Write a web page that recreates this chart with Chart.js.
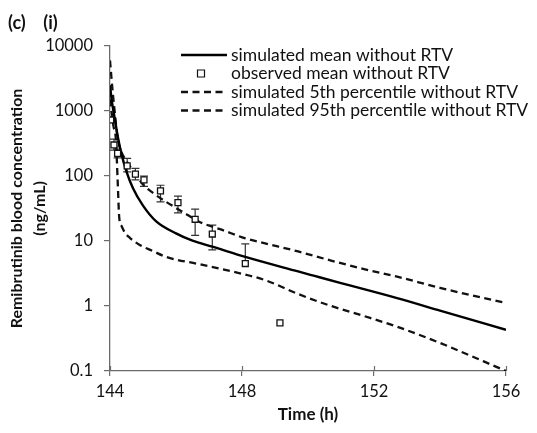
<!DOCTYPE html>
<html>
<head>
<meta charset="utf-8">
<script src="https://cdn.jsdelivr.net/npm/chart.js@4.4.1/dist/chart.umd.min.js"></script>
<style>
  html, body { margin: 0; padding: 0; background: #ffffff; }
  #wrap { width: 537px; height: 433px; position: relative; }
</style>
</head>
<body>
<div id="wrap"><canvas id="c" width="537" height="433"></canvas></div>
<script>
// ---- data ----
const xTicks = [144, 148, 152, 156];
const yTicks = [0.1, 1, 10, 100, 1000, 10000];
const yTickLabels = ['0.1', '1', '10', '100', '1000', '10000'];

const legendLabels = [
  'simulated mean without RTV',
  'observed mean without RTV',
  'simulated 5th percentile without RTV',
  'simulated 95th percentile without RTV'
];

const meanT = [144.0, 144.05, 144.15, 144.25, 144.35, 144.5, 144.7, 145.0, 145.4, 146.0, 146.5, 147.1, 148.1, 149.7, 150.2, 151.0, 152.7, 154.0, 156.0];
const meanC = [2500, 1500, 730, 370, 215, 117, 64, 35, 20, 13.1, 10.1, 8.2, 5.7, 3.4, 2.9, 2.25, 1.32, 0.85, 0.43];

const p5T = [144.0, 144.1, 144.18, 144.23, 144.28, 144.35, 144.45, 144.6, 144.9, 145.3, 145.7, 146.7, 147.7, 148.7, 149.7, 150.7, 151.7, 152.7, 154.0, 156.0];
const p5C = [1500, 600, 355, 90, 23, 17, 13.5, 11.2, 8.7, 7.0, 5.7, 4.4, 3.4, 2.5, 1.53, 1.0, 0.7, 0.48, 0.27, 0.1];

const p95T = [144.0, 144.08, 144.15, 144.22, 144.3, 144.5, 144.75, 145.0, 145.3, 145.7, 146.2, 146.7, 147.4, 148.1, 148.7, 149.7, 150.7, 151.7, 152.7, 154.0, 156.0];
const p95C = [6000, 2000, 900, 420, 270, 170, 112, 74, 55, 40, 28, 19.8, 14.8, 11.0, 9.2, 6.9, 5.0, 3.7, 2.83, 1.9, 1.11];

const obsT  = [144.02, 144.12, 144.23, 144.52, 144.77, 145.03, 145.53, 146.06, 146.58, 147.1, 148.1, 149.15];
const obsC  = [728, 300, 223, 143, 107, 87, 59, 39, 21.6, 12.8, 4.5, 0.55];
const obsHi = [null, 370, 260, 187, 131, 100, 72, 49, 31, 17.6, 9.0, null];
const obsLo = [null, 250, 190, 116, 87, 69, 40, 27, 12.2, 7.3, null, null];

// ---- helpers ----
const toXY = (xs, ys) => xs.map((x, i) => ({ x: x, y: ys[i] }));
const FONT = 'Lato';
const AXIS = '#6b6b6b';
const TXT = '#111111';

// error bars drawn through the chart's own scales
const errorBars = {
  id: 'errorBars',
  beforeDatasetsDraw(chart) {
    const { ctx, scales: { x, y } } = chart;
    ctx.save();
    ctx.strokeStyle = '#333';
    ctx.lineWidth = 1.2;
    const cap = 4;
    obsT.forEach((t, i) => {
      const px = x.getPixelForValue(t);
      const pc = y.getPixelForValue(obsC[i]);
      [obsHi[i], obsLo[i]].forEach(v => {
        if (v == null) return;
        const pv = y.getPixelForValue(v);
        ctx.beginPath();
        ctx.moveTo(px, pc); ctx.lineTo(px, pv);
        ctx.moveTo(px - cap, pv); ctx.lineTo(px + cap, pv);
        ctx.stroke();
      });
    });
    ctx.restore();
  }
};

// inner half of the x-axis tick marks (ticks cross the axis line)
const innerTicks = {
  id: 'innerTicks',
  afterDraw(chart) {
    const { ctx, scales: { x }, chartArea } = chart;
    ctx.save();
    ctx.strokeStyle = AXIS;
    ctx.lineWidth = 1.2;
    x.ticks.forEach(t => {
      const px = Math.round(x.getPixelForValue(t.value)) + 0.5;
      ctx.beginPath();
      ctx.moveTo(px, chartArea.bottom);
      ctx.lineTo(px, chartArea.bottom - 5);
      ctx.stroke();
    });
    ctx.restore();
  }
};

// legend in the upper right of the plot area, as in the reference
const refLegend = {
  id: 'refLegend',
  afterDraw(chart) {
    const { ctx, chartArea } = chart;
    const x0 = chartArea.left + 71;
    const x1 = x0 + 46;
    const tx = x1 + 4;
    const y0 = chartArea.top + 9;
    const step = 18.5;
    ctx.save();
    ctx.font = '17.5px ' + FONT;
    ctx.textBaseline = 'middle';
    ctx.textAlign = 'left';
    chart.data.datasets.forEach((ds, row) => {
      const yy = y0 + row * step;
      if (ds.showLine === false) {
        ctx.strokeStyle = ds.borderColor;
        ctx.fillStyle = '#fff';
        ctx.lineWidth = 1.2;
        const cx = (x0 + x1) / 2 - 3;
        ctx.beginPath();
        ctx.rect(cx - 3.5, yy - 3.5, 7, 7);
        ctx.fill(); ctx.stroke();
      } else {
        ctx.strokeStyle = ds.borderColor;
        ctx.lineWidth = ds.borderWidth;
        ctx.setLineDash(ds.borderDash || []);
        ctx.beginPath();
        ctx.moveTo(x0, yy); ctx.lineTo(x1, yy);
        ctx.stroke();
        ctx.setLineDash([]);
      }
      ctx.fillStyle = TXT;
      ctx.fillText(ds.label, tx, yy);
    });
    ctx.restore();
  }
};

new Chart(document.getElementById('c'), {
  type: 'line',
  data: {
    datasets: [
      {
        label: legendLabels[0],
        data: toXY(meanT, meanC),
        borderColor: '#000', borderWidth: 2.4,
        pointRadius: 0, cubicInterpolationMode: 'monotone', order: 2
      },
      {
        type: 'scatter',
        label: legendLabels[1],
        data: toXY(obsT, obsC),
        showLine: false,
        pointStyle: 'rect', pointRadius: 4.2,
        backgroundColor: '#fff', borderColor: '#111', borderWidth: 1.3,
        order: 0
      },
      {
        label: legendLabels[2],
        data: toXY(p5T, p5C),
        borderColor: '#111', borderWidth: 2.3, borderDash: [7, 4.5],
        pointRadius: 0, cubicInterpolationMode: 'monotone', order: 3
      },
      {
        label: legendLabels[3],
        data: toXY(p95T, p95C),
        borderColor: '#111', borderWidth: 2.3, borderDash: [7, 4.5],
        pointRadius: 0, cubicInterpolationMode: 'monotone', order: 3
      }
    ]
  },
  options: {
    responsive: false,
    devicePixelRatio: 1,
    animation: false,
    layout: { padding: { left: 8, right: 31, top: 0, bottom: 0 } },
    plugins: {
      legend: { display: false },
      tooltip: { enabled: false },
      title: {
        display: true,
        text: '(c)    (i)',
        align: 'start',
        color: TXT,
        font: { family: FONT, size: 18, weight: 'bold', lineHeight: 1.2 },
        padding: { top: 12.5, bottom: 11.9 }
      }
    },
    scales: {
      x: {
        type: 'linear',
        min: 144, max: 156,
        afterBuildTicks: s => { s.ticks = xTicks.map(v => ({ value: v })); },
        afterFit: s => { s.height = 62; },
        ticks: {
          color: TXT, padding: 6,
          font: { family: FONT, size: 16.5 },
          callback: v => String(v)
        },
        grid: { drawOnChartArea: false, drawTicks: true, tickLength: 5, color: AXIS, lineWidth: 1.2 },
        border: { color: AXIS, width: 1.3 },
        title: {
          display: true, text: 'Time (h)', color: TXT,
          font: { family: FONT, size: 17, weight: 'bold', lineHeight: 1.2 },
          padding: { top: 0, bottom: 8 }
        }
      },
      y: {
        type: 'logarithmic',
        min: 0.1, max: 10000,
        afterBuildTicks: s => { s.ticks = yTicks.map(v => ({ value: v })); },
        afterFit: s => { s.width = 102; },
        ticks: {
          color: TXT, padding: 11,
          font: { family: FONT, size: 16.5 },
          callback: (v, i) => yTickLabels[i]
        },
        grid: { drawOnChartArea: false, drawTicks: true, tickLength: 6, color: AXIS, lineWidth: 1.2 },
        border: { color: AXIS, width: 1.3 },
        title: {
          display: true,
          text: ['Remibrutinib blood concentration', '(ng/mL)'],
          color: TXT,
          font: { family: FONT, size: 16, weight: 'bold', lineHeight: 1.45 },
          padding: { top: -3, bottom: 0 }
        }
      }
    }
  },
  plugins: [errorBars, innerTicks, refLegend]
});
</script>
</body>
</html>
